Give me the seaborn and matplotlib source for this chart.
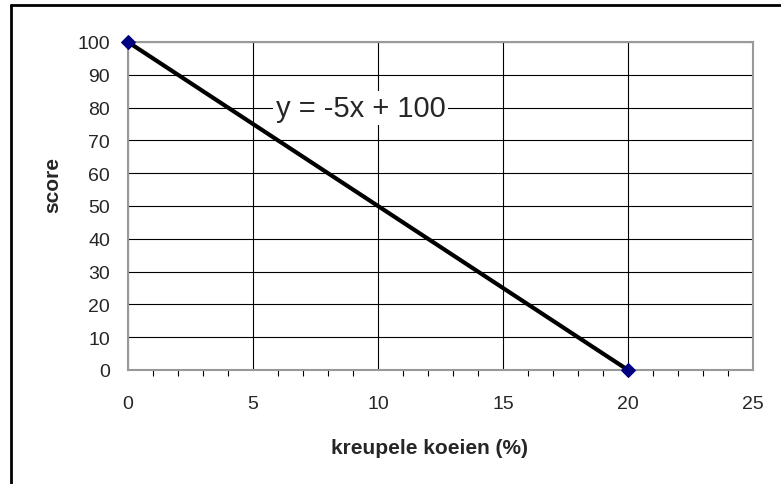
import matplotlib
matplotlib.use("Agg")
import matplotlib.pyplot as plt
import matplotlib.lines as mlines
from matplotlib.ticker import MultipleLocator
import seaborn as sns
import pandas as pd

# data
kreupel = [0, 20]
score = [100, 0]
equation = "y = -5x + 100"

df = pd.DataFrame({"kreupele koeien (%)": kreupel, "score": score})

sns.set_style("white")
plt.rcParams["font.family"] = ["Liberation Sans", "DejaVu Sans"]

fig = plt.figure(figsize=(7.81, 4.85), dpi=100)
ax = fig.add_axes([128 / 781, 1 - 371 / 485, (753 - 128) / 781, (371 - 43) / 485])

sns.lineplot(data=df, x="kreupele koeien (%)", y="score", ax=ax,
             color="black", linewidth=3, marker="D", markersize=7,
             markerfacecolor="#000080", markeredgecolor="#000080",
             zorder=3, clip_on=False)

ax.set_xlim(0, 25)
ax.set_ylim(0, 100)
ax.xaxis.set_major_locator(MultipleLocator(5))
ax.xaxis.set_minor_locator(MultipleLocator(1))
ax.yaxis.set_major_locator(MultipleLocator(10))
ax.grid(True, which="major", color="black", linewidth=0.8)
ax.set_axisbelow(True)
for s in ax.spines.values():
    s.set_color("#999999")
    s.set_linewidth(1.5)

ax.tick_params(axis="both", which="major", direction="out", length=6, width=0.8,
               color="black", labelsize=14)
ax.tick_params(axis="y", which="major", pad=7)
ax.tick_params(axis="x", which="minor", direction="out", length=4, width=0.8,
               color="black", bottom=True)
ax.tick_params(axis="x", which="major", pad=12)
ax.set_xlabel("kreupele koeien (%)", fontsize=15, fontweight="bold",
              labelpad=19, x=0.483)
ax.set_ylabel("score", fontsize=15, fontweight="bold", labelpad=11, y=0.567)

ax.text(9.3, 80, equation, fontsize=21, ha="center", va="center",
        bbox=dict(facecolor="white", edgecolor="none", pad=2), zorder=4)

# outer chart frame
fig.add_artist(mlines.Line2D([10.5 / 781, 10.5 / 781], [0, 1 - 5.5 / 485],
                             color="black", linewidth=2, transform=fig.transFigure))
fig.add_artist(mlines.Line2D([10.5 / 781, 1], [1 - 5.5 / 485, 1 - 5.5 / 485],
                             color="black", linewidth=2, transform=fig.transFigure))

fig.savefig("out.png", dpi=100)
